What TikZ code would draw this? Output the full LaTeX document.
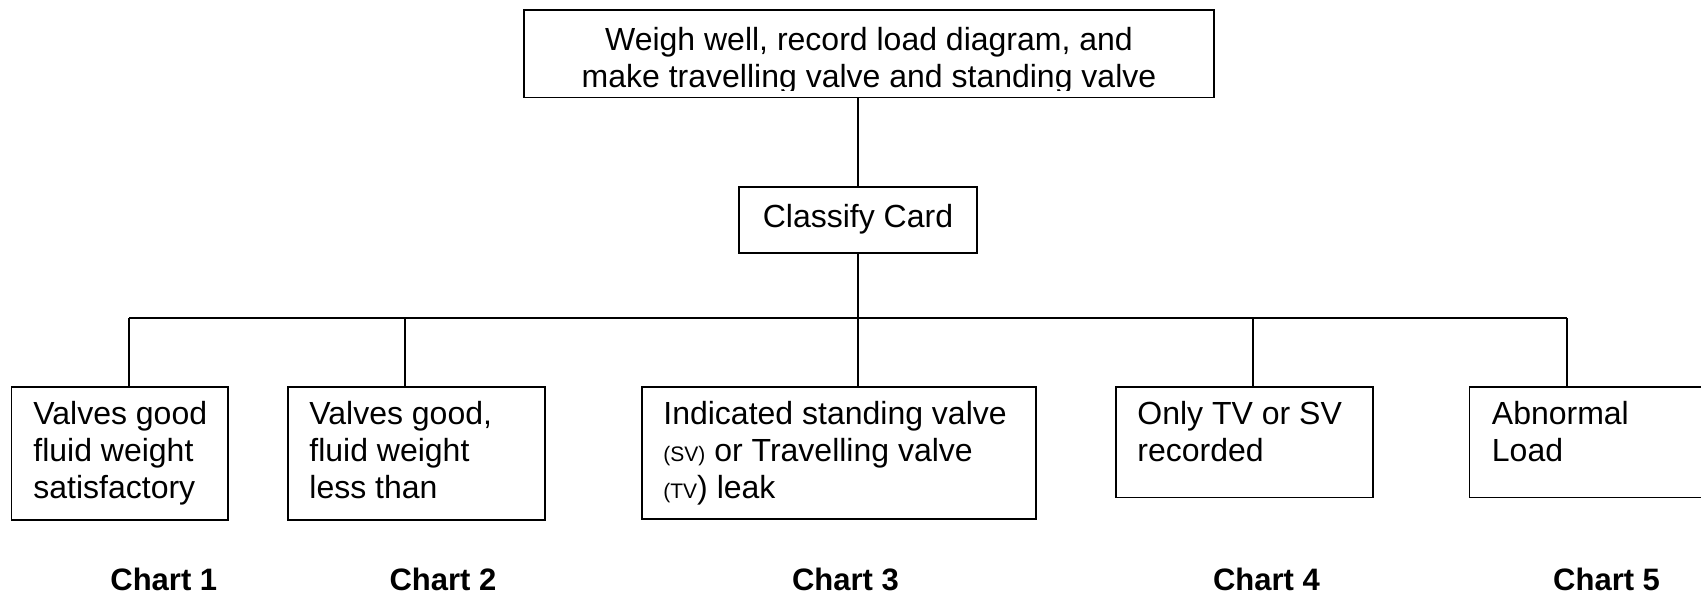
\documentclass[tikz,border=0pt]{standalone}
\usepackage{fontspec}
\setmainfont{Liberation Sans}
\newcommand\smallsz{\fontsize{10.5pt}{12pt}\selectfont}
\tikzset{
  box/.style={draw, line width=0.85pt, inner sep=0pt, anchor=north west},
  conn/.style={line width=0.85pt},
  txt/.style={inner sep=0pt, font=\fontsize{16pt}{18.35pt}\selectfont},
  chart/.style={inner sep=0pt, anchor=base, font=\fontsize{15.5pt}{18pt}\selectfont\bfseries},
}
\begin{document}
\begin{tikzpicture}[x=0.5pt,y=-0.5pt]
\useasboundingbox (0,0) rectangle (1701,597);
\clip (0,0) rectangle (1701,597);
% boxes
\node[box, minimum width=345pt, minimum height=43.85pt] (top) at (523,9) {};
\node[box, anchor=center, minimum width=119pt, minimum height=33pt, txt] (cls) at (858,219.7) {Classify Card};
\node[box, minimum width=108.15pt, minimum height=66.5pt] (b1) at (10.7,386) {};
\node[box, minimum width=128.6pt, minimum height=66.5pt] (b2) at (286.8,386) {};
\node[box, minimum width=197pt, minimum height=66.25pt] (b3) at (641.4,386) {};
\node[box, minimum width=128.5pt, minimum height=55.3pt] (b4) at (1115,386) {};
\node[box, minimum width=140pt, minimum height=55.3pt] (b5) at (1468.7,386) {};
% texts
\begin{scope}
\clip (523,9) rectangle (1213,91);
\node[txt, anchor=base] (topt) at (869,51) {\parbox[t]{340pt}{\centering Weigh well, record load diagram, and\\make travelling valve and standing valve}};
\end{scope}
\node[txt, anchor=base west] (t1) at (33,425) {\parbox[t]{110pt}{\raggedright Valves good\\fluid weight\\satisfactory}};
\node[txt, anchor=base west] (t2) at (309,425) {\parbox[t]{120pt}{\raggedright Valves good,\\fluid weight\\less than}};
\node[txt, anchor=base west] (t3) at (663,425) {\parbox[t]{190pt}{\raggedright Indicated standing valve\\{\smallsz(SV)} or Travelling valve\\{\smallsz(TV}) leak}};
\node[txt, anchor=base west] (t4) at (1137,425) {\parbox[t]{120pt}{\raggedright Only TV or SV\\recorded}};
\node[txt, anchor=base west] (t5) at (1491.5,425) {\parbox[t]{120pt}{\raggedright Abnormal\\Load}};
% chart labels
\node[chart] (ch1) at (163.8,591) {Chart 1};
\node[chart] (ch2) at (443,591) {Chart 2};
\node[chart] (ch3) at (845.5,591) {Chart 3};
\node[chart] (ch4) at (1266.5,591) {Chart 4};
\node[chart] (ch5) at (1606.6,591) {Chart 5};
% connectors
\coordinate (c1) at (129.3,318.3);
\coordinate (c2) at (405,318.3);
\coordinate (c4) at (1253.3,318.3);
\coordinate (c5) at (1566.8,318.3);
\draw[conn] (cls.north) -- (cls.north |- top.south);
\draw[conn] (cls.south) -- (cls.south |- b3.north);
\draw[conn] (c1) -- (c5);
\draw[conn] (c1) -- (c1 |- b1.north);
\draw[conn] (c2) -- (c2 |- b2.north);
\draw[conn] (c4) -- (c4 |- b4.north);
\draw[conn] (c5) -- (c5 |- b5.north);
\end{tikzpicture}
\end{document}
